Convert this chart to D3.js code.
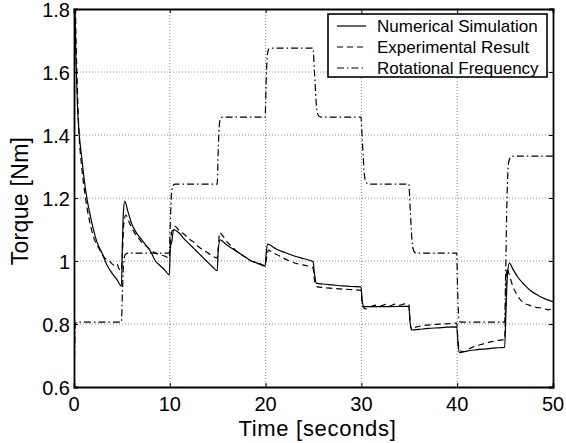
<!DOCTYPE html>
<meta charset="utf-8">
<style>
body { margin: 0; background: #fff; }
svg text {
  font-family: "Liberation Sans", Arial, Helvetica, sans-serif;
  fill: #000;
}
.grid line {
  stroke: #888;
  stroke-width: 1;
  stroke-dasharray: 1,2;
}
.series {
  fill: none;
  stroke: #000;
  stroke-width: 1.2;
}
</style>
<body>
<script src="https://d3js.org/d3.v7.min.js"></script>
<script>

// ---- data ----
// numerical simulation (solid)
var simTime = [0, 0.1, 0.2, 0.35, 0.55, 0.8, 1.1, 1.4, 1.8, 2.4, 3.0, 3.4, 4.0, 4.5, 4.95,
  5.05, 5.15, 5.3, 5.6, 6.0, 6.5, 7.0, 7.5, 8.0, 8.5, 9.0, 9.5, 9.95,
  10.05, 10.2, 10.4, 10.7, 11.1, 11.5, 12, 12.5, 13, 13.5, 14, 14.5, 14.95,
  15.05, 15.25, 15.6, 16, 16.5, 17, 17.5, 18, 18.5, 19, 19.5, 19.95,
  20.05, 20.2, 20.5, 21, 22, 23, 24, 24.95,
  25.1, 25.3, 26, 27, 28, 29, 29.95,
  30.1, 30.25, 31, 32, 33, 34, 34.95,
  35.1, 35.3, 36, 37, 38, 39, 39.95,
  40.1, 40.25, 41, 42, 43, 44, 44.95,
  45.1, 45.25, 45.45, 45.8, 46.3, 47, 47.7, 48.5, 49.3, 50];
var simTorque = [1.95, 1.8, 1.65, 1.5, 1.4, 1.33, 1.25, 1.19, 1.13, 1.06, 1.02, 0.99, 0.96, 0.94, 0.92,
  1.05, 1.15, 1.19, 1.16, 1.12, 1.09, 1.07, 1.05, 1.03, 1.0, 0.985, 0.97, 0.956,
  1.04, 1.06, 1.10, 1.095, 1.085, 1.07, 1.055, 1.04, 1.025, 1.01, 0.995, 0.98, 0.969,
  1.03, 1.067, 1.06, 1.05, 1.04, 1.03, 1.02, 1.01, 1.0, 0.995, 0.988, 0.984,
  1.02, 1.054, 1.05, 1.04, 1.027, 1.016, 1.007, 0.998,
  0.96, 0.93, 0.927, 0.924, 0.921, 0.919, 0.918,
  0.87, 0.855, 0.855, 0.855, 0.855, 0.856, 0.856,
  0.80, 0.781, 0.783, 0.786, 0.788, 0.79, 0.791,
  0.73, 0.709, 0.714, 0.718, 0.721, 0.724, 0.726,
  0.85, 0.96, 0.993, 0.975, 0.95, 0.925, 0.905, 0.89, 0.878, 0.871];

// experimental result (dashed)
var expTime = [0, 0.1, 0.2, 0.35, 0.5, 0.8, 1.2, 1.6, 2.0, 2.7, 3.2, 3.7, 4.0, 4.3, 4.5, 4.7, 4.95,
  5.05, 5.2, 5.4, 5.8, 6.3, 6.8, 7.2, 7.6, 8.0, 8.5, 9.0, 9.5, 9.95,
  10.05, 10.3, 10.55, 11, 11.5, 12, 12.5, 13, 13.5, 14, 14.5, 14.95,
  15.05, 15.2, 15.4, 16, 16.5, 17, 17.5, 18, 18.5, 19, 19.5, 19.95,
  20.05, 20.3, 20.6, 21.5, 22.5, 23.5, 24.3, 24.95,
  25.1, 25.4, 26, 27, 28, 29, 29.95,
  30.1, 30.4, 31, 31.5, 32, 32.5, 33, 33.5, 34, 34.5, 34.95,
  35.1, 35.3, 35.7, 36.5, 37.5, 38.5, 39.5, 39.95,
  40.1, 40.3, 40.7, 41.5, 42.5, 43.5, 44.5, 44.95,
  45.05, 45.17, 45.4, 45.8, 46.3, 46.8, 47.5, 48.2, 49, 49.5, 50];
var expTorque = [0.6, 1.9, 1.72, 1.55, 1.42, 1.30, 1.20, 1.13, 1.08, 1.035, 1.01, 1.0, 0.99, 0.985, 0.99, 0.975, 0.97,
  1.02, 1.12, 1.146, 1.12, 1.09, 1.07, 1.055, 1.046, 1.035, 1.025, 1.02, 1.015, 1.01,
  1.06, 1.10, 1.11, 1.095, 1.085, 1.07, 1.06, 1.045, 1.035, 1.025, 1.015, 1.01,
  1.04, 1.09, 1.085, 1.06, 1.045, 1.03, 1.02, 1.01, 1.0, 0.995, 0.99, 0.985,
  1.0, 1.035, 1.03, 1.015, 1.0, 0.99, 0.985, 0.978,
  0.94, 0.918, 0.916, 0.913, 0.911, 0.909, 0.907,
  0.86, 0.848, 0.855, 0.86, 0.857, 0.862, 0.858, 0.863, 0.86, 0.864, 0.862,
  0.80, 0.78, 0.79, 0.795, 0.798, 0.80, 0.802, 0.803,
  0.74, 0.715, 0.712, 0.725, 0.735, 0.743, 0.749, 0.75,
  0.85, 0.977, 0.96, 0.92, 0.89, 0.87, 0.86, 0.853, 0.85, 0.845, 0.85];

// rotational frequency, scaled to the torque axis (dash-dot)
var freqTime = [0, 0.15, 0.3, 4.95, 5.05, 5.2, 5.35, 5.6, 9.95, 10.05, 10.2, 10.35, 10.6,
  14.95, 15.05, 15.2, 15.35, 15.6, 19.95, 20.05, 20.2, 20.35, 20.6,
  24.95, 25.1, 25.35, 25.55, 25.8, 29.95, 30.1, 30.35, 30.55, 30.8,
  34.95, 35.1, 35.35, 35.55, 35.8, 39.95, 40.05, 40.2, 40.4,
  44.95, 45.05, 45.2, 45.35, 45.6, 45.9, 50];
var freqLevel = [0.6, 0.8, 0.806, 0.806, 0.9, 1.0, 1.02, 1.025, 1.025, 1.12, 1.22, 1.24, 1.244,
  1.244, 1.35, 1.44, 1.455, 1.457, 1.457, 1.56, 1.66, 1.674, 1.676,
  1.676, 1.6, 1.48, 1.46, 1.457, 1.457, 1.38, 1.265, 1.248, 1.244,
  1.244, 1.16, 1.045, 1.028, 1.025, 1.025, 0.9, 0.81, 0.806,
  0.806, 0.95, 1.2, 1.31, 1.33, 1.333, 1.333];

var xTicks = [0, 10, 20, 30, 40, 50];
var yTicks = [0.6, 0.8, 1, 1.2, 1.4, 1.6, 1.8];
var legendNames = ["Numerical Simulation", "Experimental Result", "Rotational Frequency"];

// ---- layout ----
var margin = {top: 9, right: 13, bottom: 56, left: 74},
    width = 566 - margin.left - margin.right,
    height = 443 - margin.top - margin.bottom;

var x = d3.scaleLinear().domain([0, 50]).range([0, width]);
var y = d3.scaleLinear().domain([0.6, 1.8]).range([height, 0]);

var svg = d3.select("body").append("svg")
    .attr("width", 566)
    .attr("height", 443)
  .append("g")
    .attr("transform", "translate(" + margin.left + "," + margin.top + ")");

svg.append("clipPath").attr("id", "plot-clip")
  .append("rect").attr("width", width).attr("height", height);

// grid lines (dotted)
var grid = svg.append("g").attr("class", "grid");
grid.selectAll(".gx").data(xTicks.slice(1, -1)).enter().append("line")
    .attr("x1", d => x(d)).attr("x2", d => x(d))
    .attr("y1", 0).attr("y2", height);
grid.selectAll(".gy").data(yTicks.slice(1, -1)).enter().append("line")
    .attr("y1", d => y(d)).attr("y2", d => y(d))
    .attr("x1", 0).attr("x2", width);

// the three curves
function zipSeries(ts, vs) {
  return ts.map(function(t, i) { return {t: t, v: vs[i]}; });
}
var valueline = d3.line()
    .x(d => x(d.t))
    .y(d => y(d.v))
    .curve(d3.curveMonotoneX);

var series = [
  {data: zipSeries(simTime, simTorque), dash: null},
  {data: zipSeries(expTime, expTorque), dash: "6,4"},
  {data: zipSeries(freqTime, freqLevel), dash: "7,3,1.5,3"}
];

var plot = svg.append("g").attr("clip-path", "url(#plot-clip)");
series.forEach(function(s) {
  plot.append("path")
      .datum(s.data)
      .attr("class", "series")
      .attr("stroke-dasharray", s.dash)
      .attr("d", valueline);
});

// axes box + inward ticks
var xAxisB = d3.axisBottom(x).tickValues(xTicks).tickSize(-4).tickFormat("");
var xAxisT = d3.axisTop(x).tickValues(xTicks).tickSize(-4).tickFormat("");
var yAxisL = d3.axisLeft(y).tickValues(yTicks).tickSize(-4).tickFormat("");
var yAxisR = d3.axisRight(y).tickValues(yTicks).tickSize(-4).tickFormat("");

svg.append("g").attr("transform", "translate(0," + height + ")").call(xAxisB);
svg.append("g").call(xAxisT);
svg.append("g").call(yAxisL);
svg.append("g").attr("transform", "translate(" + width + ",0)").call(yAxisR);
svg.selectAll(".domain").attr("stroke", "#000").attr("stroke-width", 1.8);
svg.selectAll(".tick line").attr("stroke", "#000");

// tick labels
svg.selectAll(".xlab").data(xTicks).enter().append("text")
    .attr("x", d => x(d))
    .attr("y", height + 23.5)
    .attr("text-anchor", "middle")
    .style("font-size", "20px")
    .text(d => d);
svg.selectAll(".ylab").data(yTicks).enter().append("text")
    .attr("x", -4)
    .attr("y", d => y(d) + 7.5)
    .attr("text-anchor", "end")
    .style("font-size", "20px")
    .text(d => d3.format("~g")(d));

// axis titles
svg.append("text")
    .attr("x", 317.5 - margin.left)
    .attr("y", 436 - margin.top)
    .attr("text-anchor", "middle")
    .style("font-size", "22px")
    .style("letter-spacing", "0.7px")
    .text("Time [seconds]");
svg.append("text")
    .attr("transform", "rotate(-90)")
    .attr("x", -(201 - margin.top))
    .attr("y", 28 - margin.left)
    .attr("text-anchor", "middle")
    .style("font-size", "23px")
    .style("letter-spacing", "0.3px")
    .text("Torque [Nm]");

// legend
var legend = svg.append("g").attr("transform", "translate(" + (328 - margin.left) + "," + (14 - margin.top) + ")");
legend.append("rect")
    .attr("width", 219).attr("height", 63)
    .attr("fill", "#fff").attr("stroke", "#000").attr("stroke-width", 1.6);
legendNames.forEach(function(name, i) {
  var ly = 12 + i * 21;
  legend.append("line")
      .attr("x1", 9).attr("x2", 38)
      .attr("y1", ly).attr("y2", ly)
      .attr("class", "series")
      .attr("stroke-dasharray", series[i].dash);
  legend.append("text")
      .attr("x", 49).attr("y", ly + 6)
      .style("font-size", "17px")
      .text(name);
});

</script>
</body>
